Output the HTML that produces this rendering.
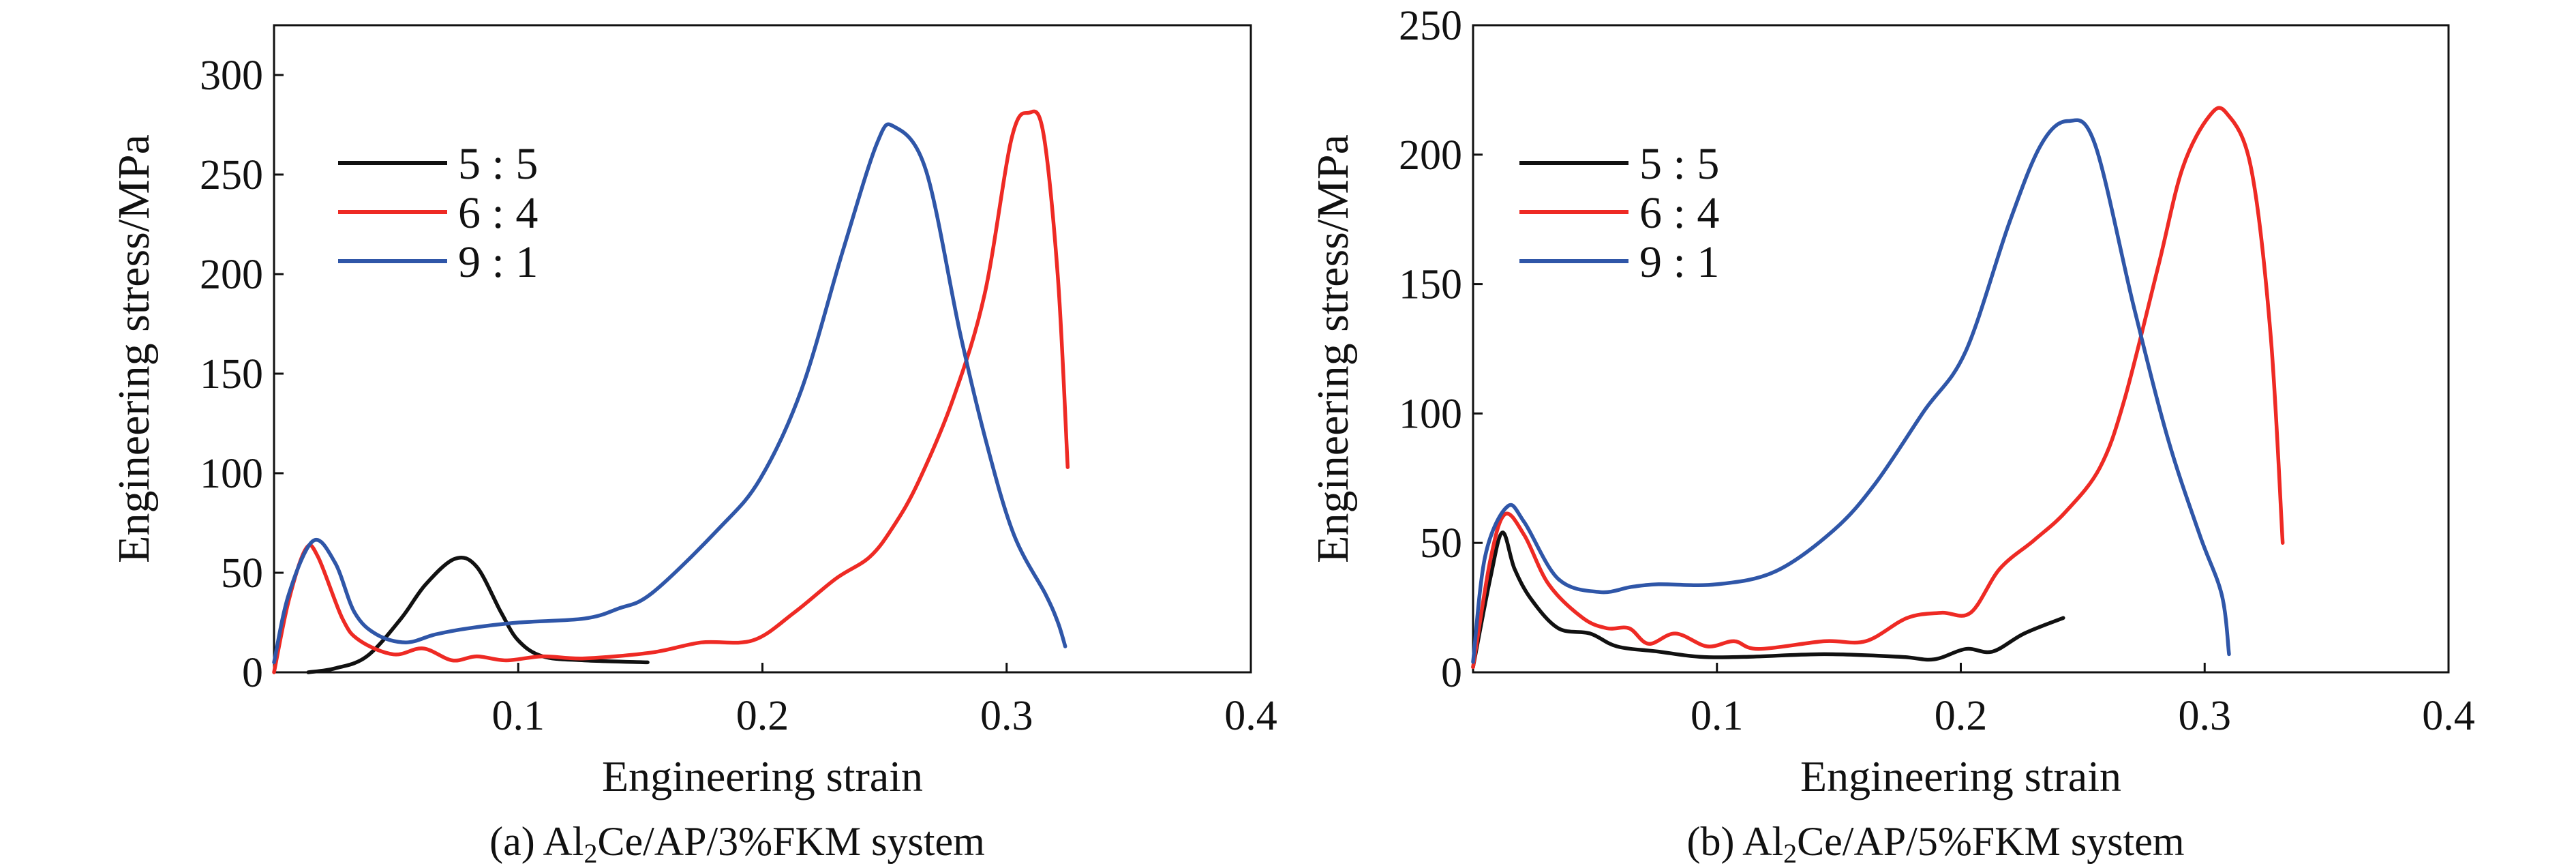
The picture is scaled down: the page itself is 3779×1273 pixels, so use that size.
<!DOCTYPE html>
<html><head><meta charset="utf-8"><style>
body{margin:0;background:#fff}
svg{display:block}
text{font-family:"Liberation Serif",serif;fill:#111}
</style></head><body>
<svg id="svg" width="3779" height="1273" viewBox="0 0 3779 1273" xmlns="http://www.w3.org/2000/svg"></svg>
<script>
const xTicks=[0.1,0.2,0.3,0.4];
const yTicksA=[0,50,100,150,200,250,300];
const yTicksB=[0,50,100,150,200,250];
const seriesNames=["5 : 5","6 : 4","9 : 1"];
const colors=["#111111","#ee2a24","#2f56a8"];
const a55x=[0.014,0.025,0.038,0.052,0.062,0.074,0.083,0.093,0.1,0.11,0.127,0.153];
const a55y=[0,2,8,27,44,57,53,30,16,8,6,5];
const a64x=[0,0.006,0.013,0.018,0.028,0.035,0.049,0.061,0.073,0.083,0.095,0.11,0.127,0.155,0.175,0.196,0.213,0.23,0.244,0.254,0.264,0.278,0.291,0.302,0.309,0.315,0.321,0.325];
const a64y=[0,36,62,58,27,16,9,12,6,8,6,8,7,10,15,16,30,47,58,74,96,137,190,268,281,271,198,103];
const a91x=[0,0.006,0.016,0.025,0.033,0.042,0.054,0.066,0.079,0.1,0.127,0.141,0.155,0.182,0.199,0.216,0.233,0.247,0.254,0.267,0.281,0.292,0.303,0.316,0.321,0.324];
const a91y=[5,39,66,55,30,19,15,19,22,25,27,32,40,72,97,142,212,266,274,252,170,114,69,39,25,13];
const b55x=[0,0.007,0.012,0.017,0.024,0.035,0.048,0.059,0.076,0.093,0.113,0.144,0.175,0.189,0.202,0.213,0.226,0.242];
const b55y=[2,36,54,40,28,17,15,10,8,6,6,7,6,5,9,8,15,21];
const b64x=[0,0.007,0.013,0.021,0.031,0.045,0.055,0.064,0.072,0.083,0.096,0.107,0.117,0.144,0.161,0.178,0.192,0.204,0.216,0.23,0.243,0.257,0.267,0.281,0.291,0.302,0.309,0.319,0.327,0.332];
const b64y=[2,43,61,53,34,21,17,17,11,15,10,12,9,12,12,21,23,23,40,51,62,79,105,157,195,215,216,195,131,50];
const b91x=[0,0.005,0.014,0.021,0.035,0.052,0.065,0.076,0.1,0.124,0.148,0.165,0.185,0.202,0.22,0.233,0.244,0.255,0.271,0.285,0.298,0.307,0.31];
const b91y=[4,45,64,58,36,31,33,34,34,39,55,73,101,124,174,204,213,204,141,90,53,30,7];

const svg=document.getElementById('svg');
const NS="http://www.w3.org/2000/svg";
function el(tag,attrs,parent,txt){const e=document.createElementNS(NS,tag);for(const k in attrs)e.setAttribute(k,attrs[k]);if(txt!==undefined)e.textContent=txt;(parent||svg).appendChild(e);return e;}
function smoothPath(p){
  let d='M'+p[0][0].toFixed(1)+','+p[0][1].toFixed(1);
  for(let i=0;i<p.length-1;i++){
    const p0=p[Math.max(0,i-1)],p1=p[i],p2=p[i+1],p3=p[Math.min(p.length-1,i+2)];
    const c1=[p1[0]+(p2[0]-p0[0])/6,p1[1]+(p2[1]-p0[1])/6];
    const c2=[p2[0]-(p3[0]-p1[0])/6,p2[1]-(p3[1]-p1[1])/6];
    d+=` C${c1[0].toFixed(1)},${c1[1].toFixed(1)} ${c2[0].toFixed(1)},${c2[1].toFixed(1)} ${p2[0].toFixed(1)},${p2[1].toFixed(1)}`;
  }
  return d;
}

function panel(id,L,R,T,B,ymax,yTicks,data,caption,legX){
  const g=el('g',{});
  
  
  const sx=v=>L+(v/0.4)*(R-L);
  const sy=v=>B-(v/ymax)*(B-T);
  const box=el('rect',{x:L,y:T,width:R-L,height:B-T,fill:'none',stroke:'#111','stroke-width':3},g);
  
  
  yTicks.forEach(t=>{
    const y=sy(t);
    el('line',{x1:L,x2:L+14,y1:y,y2:y,stroke:'#111','stroke-width':3},g);
    const tx=el('text',{x:L-16,y:y+21,'font-size':62,'text-anchor':'end'},g,String(t));
    
    
  });
  xTicks.forEach(t=>{
    const x=sx(t);
    el('line',{x1:x,x2:x,y1:B,y2:B-14,stroke:'#111','stroke-width':3},g);
    const tx=el('text',{x:x,y:B+84,'font-size':62,'text-anchor':'middle'},g,String(t));
    
    
  });
  data.forEach((d,i)=>{
    const pts=d[0].map((v,j)=>[sx(v),sy(d[1][j])]);
    const p=el('path',{d:smoothPath(pts),fill:'none',stroke:colors[i],'stroke-width':5.5,'stroke-linejoin':'round','stroke-linecap':'round'},g);
    
    
    const ly=239+i*72;
    const lg=el('g',{},g);
    
    
    el('line',{x1:legX,x2:legX+160,y1:ly,y2:ly,stroke:colors[i],'stroke-width':6},lg);
    el('text',{x:legX+176,y:ly+23,'font-size':66},lg,seriesNames[i]);
  });
  const xt=el('text',{x:(L+R)/2,y:1160,'font-size':64,'text-anchor':'middle'},g,'Engineering strain');
  
  
  const yt=el('text',{x:0,y:0,'font-size':66,'text-anchor':'middle',transform:`translate(${L-184},${(T+B)/2}) rotate(-90)`},g,'Engineering stress/MPa');
  
  
  const ct=el('text',{x:(L+R)/2-37,y:1254,'font-size':60,'text-anchor':'middle'},g);
  
  
  el('tspan',{},ct,caption[0]+' Al');
  el('tspan',{'font-size':40,dy:11},ct,'2');
  el('tspan',{dy:-11},ct,'Ce/AP/'+caption[1]+'FKM system');
}
panel('panel-a',402,1835,37,986,325,yTicksA,[[a55x,a55y],[a64x,a64y],[a91x,a91y]],['(a)','3%'],496);
panel('panel-b',2161,3592,37,986,250,yTicksB,[[b55x,b55y],[b64x,b64y],[b91x,b91y]],['(b)','5%'],2229);
</script>
</body></html>
